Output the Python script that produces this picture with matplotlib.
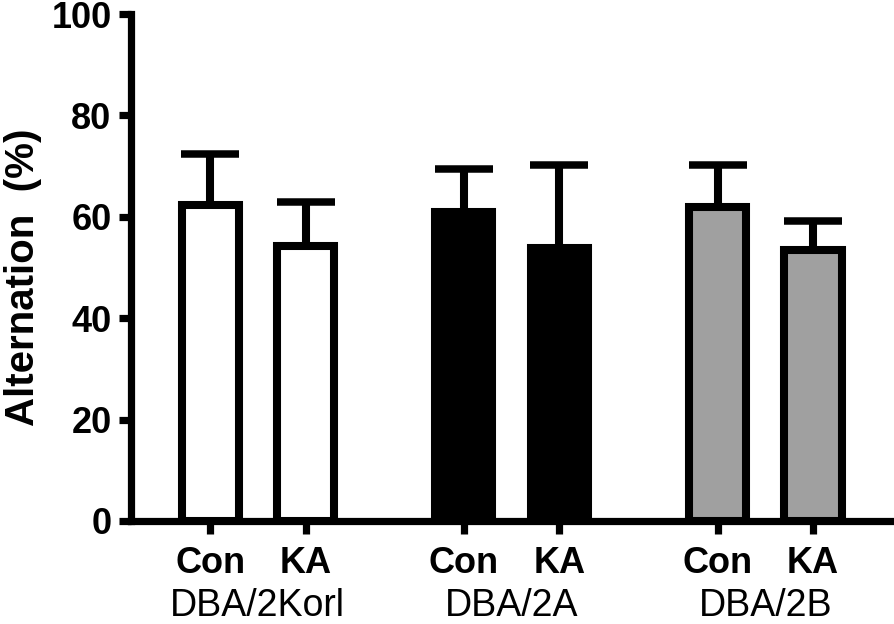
import numpy as np
import matplotlib
matplotlib.use('Agg')
import matplotlib.pyplot as plt

# Data
strains = ['DBA/2Korl', 'DBA/2A', 'DBA/2B']
treatments = ['Con', 'KA']
means = [62.4, 54.2, 61.0, 53.8, 61.9, 53.5]
sems = [10.0, 8.7, 8.4, 16.4, 8.3, 5.7]
fills = ['white', 'white', 'black', 'black', '#a0a0a0', '#a0a0a0']

plt.rcParams['font.family'] = ['Liberation Sans', 'DejaVu Sans']


def bar_positions(n_groups, n_per, gap):
    pos = []
    for g in range(n_groups):
        for k in range(n_per):
            pos.append(g * (n_per + gap) + k)
    return np.array(pos, dtype=float)


def setup():
    fig = plt.figure(figsize=(8.94, 6.24), dpi=100)
    ax = fig.add_axes([131 / 894, 1 - 521 / 624, 1 - 131 / 894, 507 / 624])
    return fig, ax


def draw_bars(ax, x):
    ax.errorbar(x, means, yerr=[np.zeros(len(means)), sems], fmt='none',
                ecolor='black', elinewidth=5.8, capsize=21, capthick=5.4,
                zorder=1)
    ax.bar(x, means, width=0.6, color=fills, edgecolor='black',
           linewidth=5.8, zorder=2)


def beautify_axes(ax, x):
    ax.set_xlim(x[0] - 0.83, x[-1] + 0.85)
    ax.set_ylim(0, 100)
    ax.set_yticks(np.arange(0, 101, 20))
    ax.set_xticks(x)
    ax.set_xticklabels(treatments * len(strains), fontweight='bold')
    for s in ['top', 'right']:
        ax.spines[s].set_visible(False)
    for s in ['left', 'bottom']:
        ax.spines[s].set_linewidth(5.2)
    ax.tick_params(axis='both', width=5.2, length=9, labelsize=26, pad=9)
    ax.tick_params(axis='y', pad=5)
    for lab in ax.get_yticklabels():
        lab.set_fontweight('bold')
    ax.set_ylabel('Alternation  (%)', fontsize=29, fontweight='bold')
    ax.yaxis.set_label_coords(-0.116, 0.48)


def write_groups(ax, x):
    trans = ax.get_xaxis_transform()
    n = len(treatments)
    for g, name in enumerate(strains):
        xc = x[g * n:(g + 1) * n].mean()
        ax.text(xc, -0.133, name, transform=trans, ha='center', va='top',
                fontsize=27)


fig, ax = setup()
x = bar_positions(len(strains), len(treatments), 0.66)
draw_bars(ax, x)
beautify_axes(ax, x)
write_groups(ax, x)
fig.savefig('out.png', dpi=100)
